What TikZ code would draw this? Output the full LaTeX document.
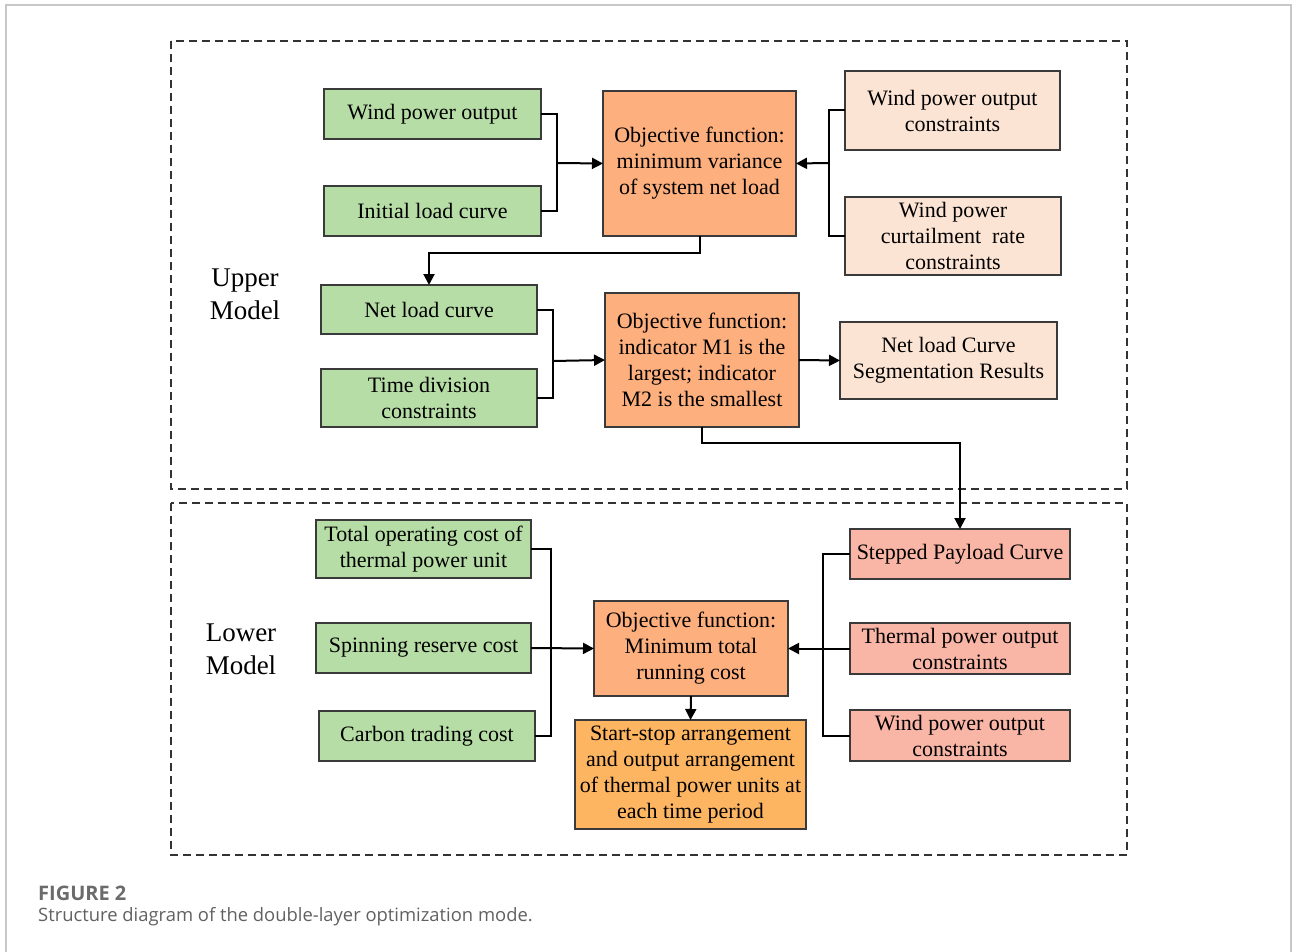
\documentclass[tikz,border=0pt]{standalone}
\usepackage{fontspec}
\setmainfont{Liberation Serif}
\newfontfamily\capfont{Open Sans}
\usetikzlibrary{arrows.meta}
\definecolor{gfill}{HTML}{B7DDA6}
\definecolor{ofill}{HTML}{FDAF7E}
\definecolor{pfill}{HTML}{FCE4D4}
\definecolor{sfill}{HTML}{F9B5A5}
\definecolor{afill}{HTML}{FDB562}
\definecolor{bord}{HTML}{3A3A3A}
\newcommand\mybox[7]{\node[#1, minimum width={#5-#3}, minimum height={#6-#4}] (#2) at ({(#3+#5)/2},{(#4+#6)/2}) {#7};}
\begin{document}
\begin{tikzpicture}[x=1pt,y=-1pt,
  box/.style={draw=bord, line width=1.4pt, inner sep=0pt, outer sep=0pt, align=center, font=\fontsize{22}{26}\selectfont},
  gbox/.style={box, fill=gfill},
  obox/.style={box, fill=ofill},
  pbox/.style={box, fill=pfill},
  sbox/.style={box, fill=sfill},
  abox/.style={box, fill=afill},
  conn/.style={line width=2pt, black},
  arr/.style={conn, -{Triangle[length=11pt,width=11pt]}},
  frame/.style={dashed, dash pattern=on 8pt off 5pt, line width=1.5pt, draw=black!80},
  lbl/.style={align=center, font=\fontsize{27}{33}\selectfont}]
\useasboundingbox (0,0) rectangle (1292,952);
\draw[line width=1.5pt, black!22] (6,952) -- (6,5) -- (1291,5) -- (1291,952);
% frames
\draw[frame] (171,41) rectangle (1127,489);
\draw[frame] (171,503) rectangle (1127,855);
\node[lbl] (up) at (245,294) {Upper\\Model};
\node[lbl] (low) at (241,649) {Lower\\Model};
% upper model
\mybox{gbox}{wpo}{324}{89}{541}{139}{Wind power output}
\mybox{gbox}{ilc}{324}{186}{541}{236}{Initial load curve}
\mybox{obox}{obj1}{603}{91}{796}{236}{Objective function:\\minimum variance\\of system net load}
\mybox{pbox}{wpoc}{845}{71}{1060}{150}{Wind power output\\constraints}
\mybox{pbox}{wpcr}{845}{197}{1061}{275}{Wind power\\curtailment\ \ rate\\constraints}
\mybox{gbox}{nlc}{321}{285}{537}{334}{Net load curve}
\mybox{gbox}{tdc}{321}{369}{537}{427}{Time division\\constraints}
\mybox{obox}{obj2}{605}{293}{799}{427}{Objective function:\\indicator M1 is the\\largest; indicator\\M2 is the smallest}
\mybox{pbox}{seg}{840}{322}{1057}{399}{Net load Curve\\Segmentation Results}
% lower model
\mybox{gbox}{toc}{316}{520}{531}{578}{Total operating cost of\\thermal power unit}
\mybox{gbox}{src}{316}{623}{531}{673}{Spinning reserve cost}
\mybox{gbox}{ctc}{319}{711}{535}{761}{Carbon trading cost}
\mybox{obox}{obj3}{594}{601}{788}{696}{Objective function:\\Minimum total\\running cost}
\mybox{abox}{ss}{575}{720}{806}{829}{Start-stop arrangement\\and output arrangement\\of thermal power units at\\each time period}
\mybox{sbox}{spc}{850}{529}{1070}{579}{Stepped Payload Curve}
\mybox{sbox}{tpoc}{850}{623}{1070}{674}{Thermal power output\\constraints}
\mybox{sbox}{wpoc2}{850}{710}{1070}{761}{Wind power output\\constraints}
% junctions
\coordinate (j1) at (557,163);
\coordinate (j2) at (829,163);
\coordinate (j3) at (553,361);
\coordinate (j4) at (551,648);
\coordinate (j5) at (823,648);
% upper connectors
\draw[conn] (wpo.east) -| (j1) |- (ilc.east);
\draw[arr] (j1) -- (obj1.west);
\draw[conn] (wpoc.west) -| (j2) |- (wpcr.west);
\draw[arr] (j2) -- (obj1.east);
\draw[arr] (obj1.south) -- ++(0,17) -| (nlc.north);
\draw[conn] (nlc.east) -| (j3) |- (tdc.east);
\draw[arr] (j3) -- (obj2.west);
\draw[arr] (obj2.east) -- (seg.west);
\draw[arr] (obj2.south) -- ++(0,16) -| (spc.north);
% lower connectors
\draw[conn] (toc.east) -| (j4) |- (ctc.east);
\draw[arr] (src.east) -- (obj3.west);
\draw[conn] (spc.west) -| (j5) |- (wpoc2.west);
\draw[arr] (tpoc.west) -- (obj3.east);
\draw[arr] (obj3.south) -- (ss.north);
% caption
\node[anchor=west, inner sep=0pt, font=\capfont\fontsize{20}{24}\selectfont\bfseries, text=black!58] (cap1) at (38,893) {FIGURE 2};
\node[anchor=west, inner sep=0pt, font=\capfont\fontsize{18.4}{22}\selectfont, text=black!62] (cap2) at (38,917) {Structure diagram of the double-layer optimization mode.};
\end{tikzpicture}
\end{document}
